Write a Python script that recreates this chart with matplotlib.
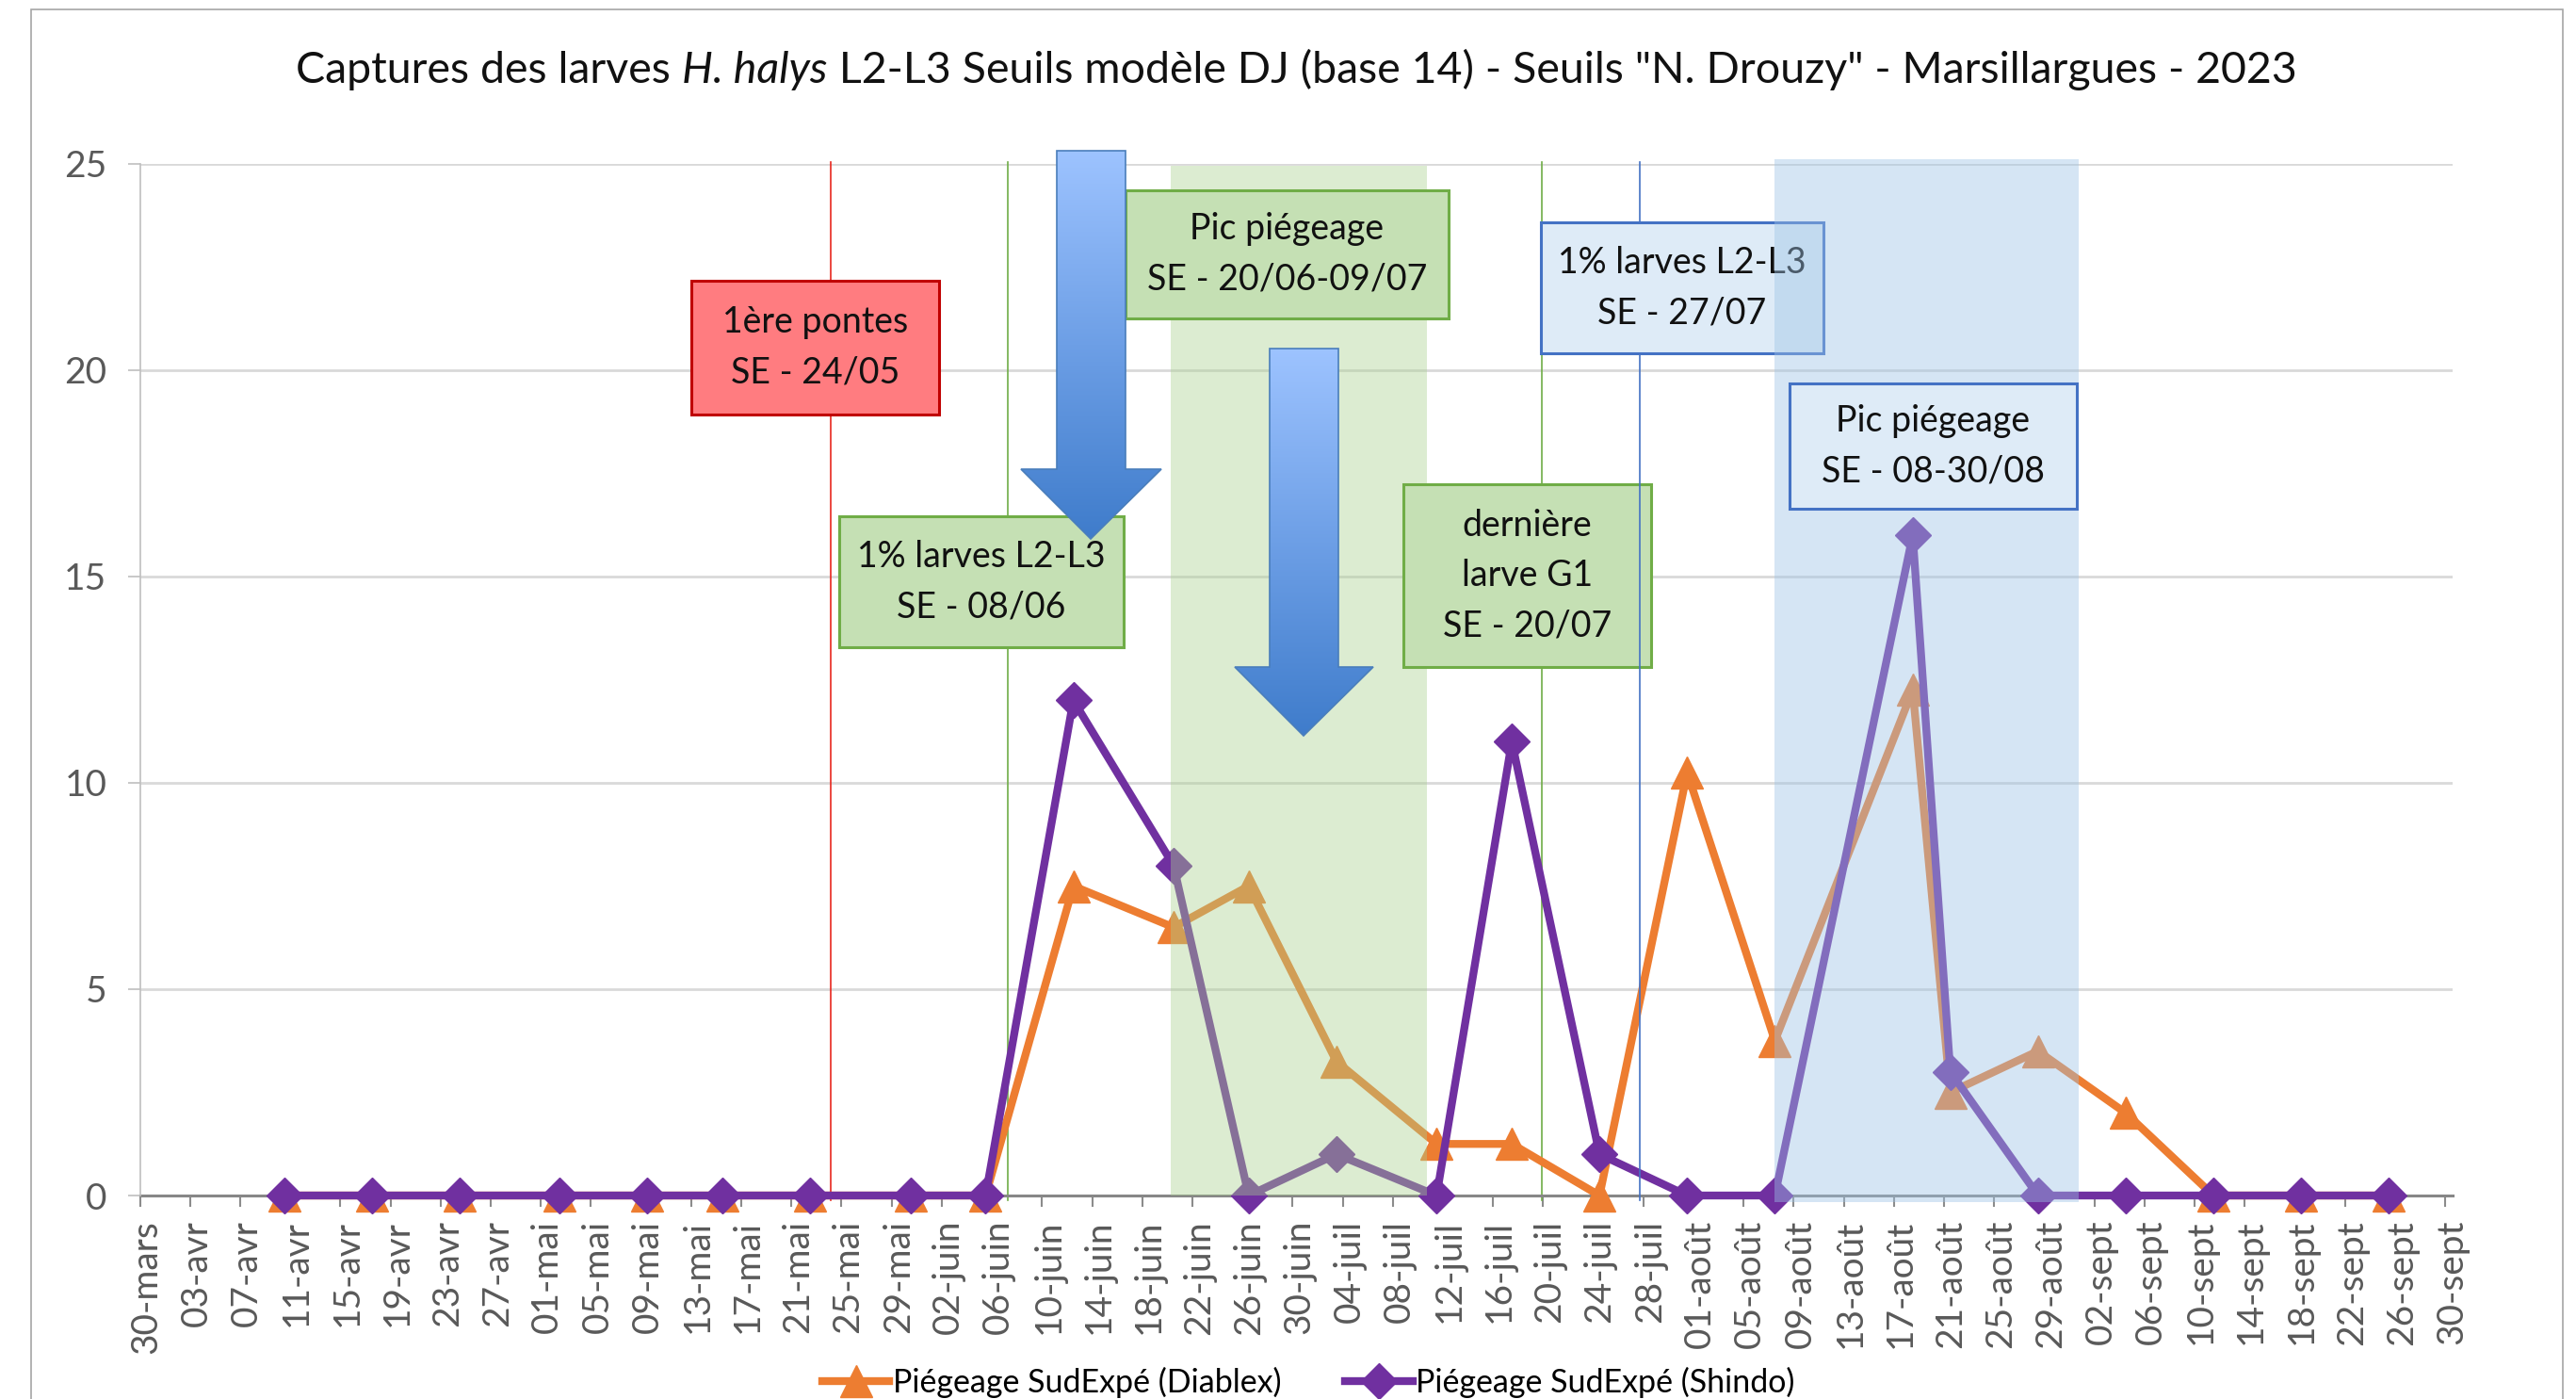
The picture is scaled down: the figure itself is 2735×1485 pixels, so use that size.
import matplotlib
matplotlib.use("Agg")
import matplotlib.dates as mdates
import matplotlib.pyplot as plt
import numpy as np
import pandas as pd
from matplotlib.colors import LinearSegmentedColormap
from matplotlib.lines import Line2D
from matplotlib.patches import Polygon, Rectangle
from matplotlib.transforms import ScaledTranslation

# relevés (dates de piégeage)
dates = [
    "2023-04-10", "2023-04-17", "2023-04-24", "2023-05-02", "2023-05-09",
    "2023-05-15", "2023-05-22", "2023-05-30", "2023-06-05", "2023-06-12",
    "2023-06-20", "2023-06-26", "2023-07-03", "2023-07-11", "2023-07-17",
    "2023-07-24", "2023-07-31", "2023-08-07", "2023-08-18", "2023-08-21",
    "2023-08-28", "2023-09-04", "2023-09-11", "2023-09-18", "2023-09-25",
]
diablex = [0, 0, 0, 0, 0, 0, 0, 0, 0, 7.5, 6.5, 7.5, 3.25, 1.25, 1.25, 0,
           10.25, 3.75, 12.25, 2.5, 3.5, 2, 0, 0, 0]
shindo = [0, 0, 0, 0, 0, 0, 0, 0, 0, 12, 8, 0, 1, 0, 11, 1, 0, 0, 16, 3,
          0, 0, 0, 0, 0]
series_labels = ["Piégeage SudExpé (Diablex)", "Piégeage SudExpé (Shindo)"]

# repères du modèle
event_lines = [("2023-05-24 03:00", "#e8281e"), ("2023-06-07 07:00", "#70ad47"),
               ("2023-07-19 22:00", "#70ad47"), ("2023-07-27 18:00", "#4472c4")]
peak_green = ("2023-06-20 07:00", "2023-07-10 18:00")
peak_blue = ("2023-08-07 12:00", "2023-08-31 18:00")

months = {3: "mars", 4: "avr", 5: "mai", 6: "juin", 7: "juil", 8: "août", 9: "sept"}
ticks = pd.date_range("2023-03-30", "2023-09-30", freq="4D")
tick_labels = [f"{d.day:02d}-{months[d.month]}" for d in ticks]

ORANGE = "#ed7d31"
PURPLE = "#7030a0"
GREY = "#595959"

plt.rcParams["font.family"] = ["Lato", "DejaVu Sans"]

W, H = 2735, 1485
fig = plt.figure(figsize=(W / 100, H / 100), dpi=100)

# axes placed from reference pixels
X0, X1, Y0, Y1 = 148.6, 2604.4, 1269, 174
ax = fig.add_axes([X0 / W, 1 - Y0 / H, (X1 - X0) / W, (Y0 - Y1) / H])


def axf(x, y):
    return (x - X0) / (X1 - X0), (Y0 - y) / (Y0 - Y1)


def num(s):
    return mdates.date2num(pd.Timestamp(s).to_pydatetime())


x = pd.to_datetime(dates) + pd.Timedelta(hours=12)
ax.plot(x, diablex, color=ORANGE, lw=6, marker="^", ms=25, mec=ORANGE,
        zorder=3, clip_on=False)
ax.plot(x, shindo, color=PURPLE, lw=6, marker="D", ms=19, mec=PURPLE,
        zorder=3.2, clip_on=False)

# bandes "pic de piégeage"
ax.axvspan(num(peak_green[0]), num(peak_green[1]), ymin=0, ymax=0.998,
           color="#a9d18e", alpha=0.4, lw=0, zorder=4)
band = ax.axvspan(num(peak_blue[0]), num(peak_blue[1]), ymin=-0.0064, ymax=1.0046,
                  color="#9dc3e6", alpha=0.42, lw=0, zorder=8)
band.set_clip_on(False)

for d, c in event_lines:
    z = 6 if c == "#4472c4" else 1
    ax.axvline(num(d), ymin=-0.005, ymax=1.002, color=c, lw=1.2, zorder=z, clip_on=False)


def box(text, x0, y0, x1, y1, face, edge, z):
    ax0, ay1 = axf(x0, y0)
    ax1, ay0 = axf(x1, y1)
    ax.add_patch(Rectangle((ax0, ay0), ax1 - ax0, ay1 - ay0, transform=ax.transAxes,
                           facecolor=face, edgecolor=edge, lw=2.2, zorder=z, clip_on=False))
    ax.text((ax0 + ax1) / 2, (ay0 + ay1) / 2, text, transform=ax.transAxes,
            ha="center", va="center", fontsize=27, linespacing=1.6,
            color="#111111", zorder=z + 0.1, clip_on=False)


box("1ère pontes\nSE - 24/05", 734, 298, 997, 440, "#ff7c80", "#c00000", 5)
box("Pic piégeage\nSE - 20/06-09/07", 1195, 202, 1538, 338, "#c5e0b4", "#70ad47", 5)
box("1% larves L2-L3\nSE - 08/06", 891, 548, 1193, 687, "#c5e0b4", "#70ad47", 5)
box("dernière\nlarve G1\nSE - 20/07", 1490, 514, 1753, 708, "#c5e0b4", "#70ad47", 5)
box("1% larves L2-L3\nSE - 27/07", 1636, 236, 1936, 375, "#deebf7", "#4472c4", 7)
box("Pic piégeage\nSE - 08-30/08", 1900, 407, 2205, 540, "#deebf7", "#4472c4", 9)

# flèches dégradées
cmap = LinearSegmentedColormap.from_list("arrow", ["#9dc3ff", "#6d9fe6", "#3f7ccb"])
grad = np.linspace(0, 1, 256).reshape(-1, 1)


def arrow(sl, sr, top, base, hl, hr, tx, ty):
    verts = [axf(sl, top), axf(sr, top), axf(sr, base), axf(hr, base),
             axf(tx, ty), axf(hl, base), axf(sl, base)]
    poly = Polygon(verts, closed=True, transform=ax.transAxes, facecolor="none",
                   edgecolor="#4a7ebb", lw=1.2, zorder=21, clip_on=False)
    ax.add_patch(poly)
    xs = [v[0] for v in verts]
    ys = [v[1] for v in verts]
    im = ax.imshow(grad, cmap=cmap, extent=[min(xs), max(xs), min(ys), max(ys)],
                   transform=ax.transAxes, aspect="auto", zorder=20,
                   interpolation="bilinear")
    im.set_clip_path(poly)
    im.set_clip_box(fig.bbox)


arrow(1122, 1195, 160, 498, 1084, 1233, 1158, 572)
arrow(1348, 1421, 370, 708, 1311, 1458, 1384, 781)

# axes
ax.set_xlim(num("2023-03-30"), num("2023-09-30 15:00"))
ax.set_ylim(0, 25)
ax.set_yticks(range(0, 26, 5))
ax.set_xticks(ticks)
ax.set_xticklabels(tick_labels, rotation=90)
ax.tick_params(axis="x", length=8.6, width=1.5, color="#8c8c8c", pad=10,
               labelsize=28, labelcolor=GREY)
ax.tick_params(axis="y", length=9.4, width=1.2, color="#bfbfbf", pad=16,
               labelsize=28, labelcolor=GREY)
shift = ScaledTranslation(0.07, 0, fig.dpi_scale_trans)
for lab in ax.get_xticklabels():
    lab.set_transform(lab.get_transform() + shift)

ax.yaxis.grid(True, color="#d9d9d9", lw=2.0)
ax.set_axisbelow(True)
for s in ["top", "right"]:
    ax.spines[s].set_visible(False)
ax.spines["left"].set_color("#bfbfbf")
ax.spines["left"].set_linewidth(1.2)
ax.spines["bottom"].set_color("#878787")
ax.spines["bottom"].set_linewidth(2.2)
ax.spines["bottom"].set_zorder(2)

# titre avec nom d'espèce en italique
renderer = fig.canvas.get_renderer()
parts = [("Captures des larves ", "normal"), ("H. halys", "italic"),
         (' L2-L3 Seuils modèle DJ (base 14) - Seuils "N. Drouzy" - Marsillargues - 2023', "normal")]
texts = [fig.text(0, 1 - 88 / H, p, fontsize=33.5, style=st, color="#111111", va="baseline")
         for p, st in parts]
widths = [t.get_window_extent(renderer).width for t in texts]
xpos = (X0 + X1) / 2 - sum(widths) / 2
for t, w in zip(texts, widths):
    t.set_x(xpos / W)
    xpos += w

# légende
handles = [Line2D([], [], color=ORANGE, lw=6, marker="^", ms=25),
           Line2D([], [], color=PURPLE, lw=6, marker="D", ms=19)]
fig.legend(handles, series_labels, loc="center left",
           bbox_to_anchor=(873 / W, 1 - 1467 / H), ncol=2, frameon=False,
           fontsize=24.5, handlelength=2.1, handletextpad=0.1, columnspacing=2.0,
           borderaxespad=0, borderpad=0)

fig.add_artist(Rectangle((33 / W, -0.05), (2721 - 33) / W, 1.05 - 10 / H,
                         transform=fig.transFigure, fill=False,
                         edgecolor="#a6a6a6", lw=1.2))

fig.savefig("out.png", dpi=100)
